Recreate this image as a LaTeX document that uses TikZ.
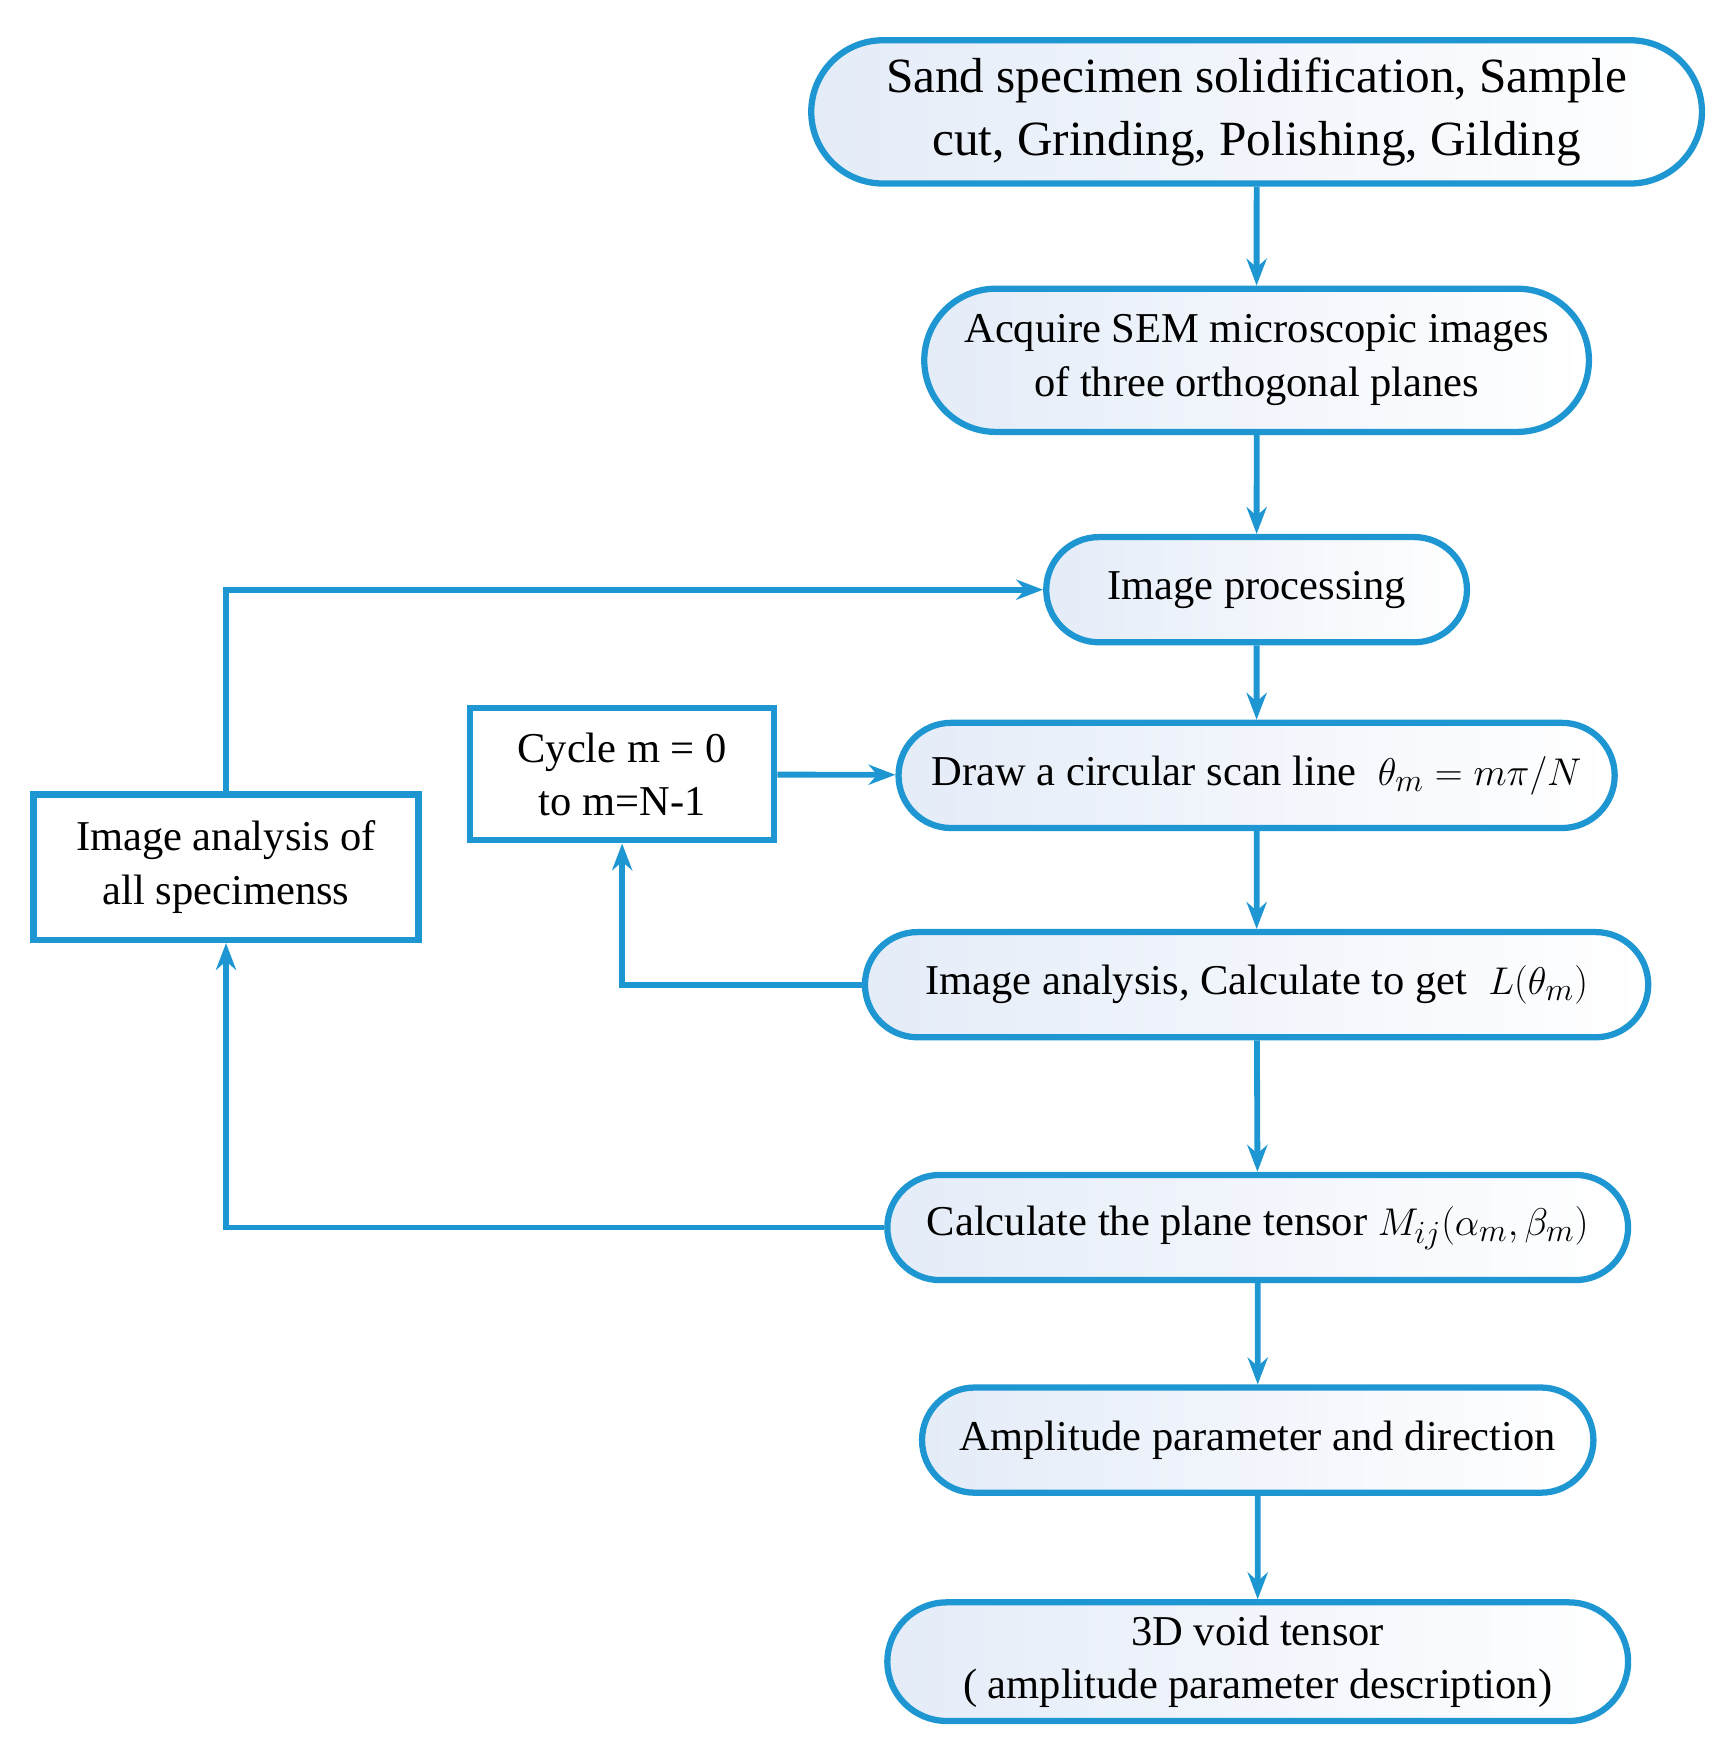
\documentclass[tikz,border=0pt]{standalone}
\usepackage{fontspec}
\setmainfont{Liberation Serif}
\usetikzlibrary{arrows.meta,shapes.misc}
\definecolor{bl}{RGB}{30,150,210}
\definecolor{lf}{RGB}{228,236,248}
\begin{document}
\begin{tikzpicture}[x=0.5pt,y=-0.5pt,
 rb/.style={draw=bl,line width=2.8pt,rounded rectangle,left color=lf,right color=white,
   align=center,inner sep=0pt,font=\fontsize{19}{24}\selectfont},
 sq/.style={draw=bl,line width=2.8pt,fill=white,align=center,inner sep=0pt,font=\fontsize{19}{24}\selectfont},
 ar/.style={draw=bl,line width=2.6pt,-{Stealth[length=12pt,width=9pt]}}]
\useasboundingbox (0,0) rectangle (1550,1572);
\node[rb,minimum width=398pt,minimum height=64pt,font=\fontsize{22}{28}\selectfont] (n1) at (1123,100) {Sand specimen solidification, Sample\\cut, Grinding, Polishing, Gilding};
\node[rb,minimum width=297pt,minimum height=64pt] (n2) at (1123,322) {Acquire SEM microscopic images\\of three orthogonal planes};
\node[rb,minimum width=188pt,minimum height=47pt] (n3) at (1123,527) {Image processing};
\node[rb,minimum width=320pt,minimum height=47pt] (n4) at (1123,693) {Draw a circular scan line \ $\theta_m=m\pi/N$};
\node[rb,minimum width=350pt,minimum height=47pt] (n5) at (1123,880) {Image analysis, Calculate to get \ $L(\theta_m)$};
\node[rb,minimum width=331pt,minimum height=47pt] (n6) at (1124,1097) {Calculate the plane tensor $M_{ij}(\alpha_m,\beta_m)$};
\node[rb,minimum width=300pt,minimum height=47pt] (n7) at (1124,1287) {Amplitude parameter and direction};
\node[rb,minimum width=331pt,minimum height=53pt] (n8) at (1124,1485) {3D void tensor\\( amplitude parameter description)};
\node[sq,minimum width=136pt,minimum height=59pt] (A) at (556,692) {Cycle m = 0\\to m=N-1};
\node[sq,minimum width=172pt,minimum height=65pt] (B) at (202,775) {Image analysis of\\all specimenss};
\draw[ar] (n1) -- (n2);
\draw[ar] (n2) -- (n3);
\draw[ar] (n3) -- (n4);
\draw[ar] (A) -- (n4);
\draw[ar] (n4) -- (n5);
\draw[ar] (n5.west) -| (A.south);
\draw[ar] (n5) -- (n6);
\draw[ar] (n6.west) -| (B.south);
\draw[ar] (B.north) |- (n3.west);
\draw[ar] (n6) -- (n7);
\draw[ar] (n7) -- (n8);
\end{tikzpicture}
\end{document}
